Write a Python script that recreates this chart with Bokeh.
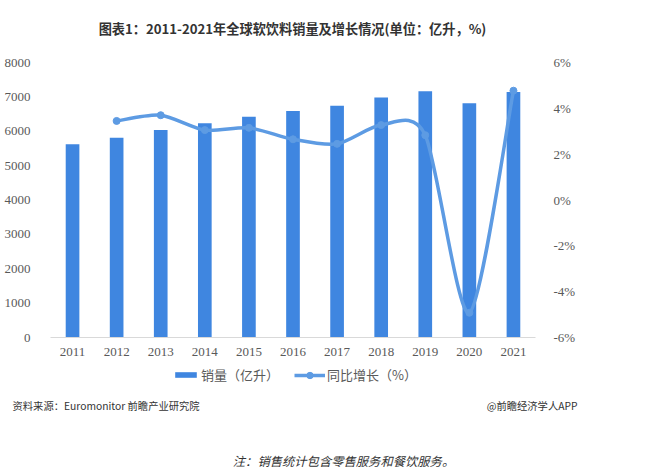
from bokeh.plotting import figure
from bokeh.models import (Range1d, LinearAxis, FixedTicker, PrintfTickFormatter,
                          Legend, LegendItem, Label)
from bokeh.embed import file_html
from bokeh.resources import INLINE

# ---- data ----
years = [2011, 2012, 2013, 2014, 2015, 2016, 2017, 2018, 2019, 2020, 2021]
volume = [5620, 5810, 6040, 6235, 6420, 6590, 6745, 6980, 7165, 6815, 7145]
growth_years = [2012, 2013, 2014, 2015, 2016, 2017, 2018, 2019, 2020, 2021]
growth = [3.45, 3.7, 3.05, 3.15, 2.65, 2.45, 3.27, 2.83, -4.92, 4.77]
left_ticks = [0, 1000, 2000, 3000, 4000, 5000, 6000, 7000, 8000]
right_ticks = [-6, -4, -2, 0, 2, 4, 6]

title_text = "图表1：2011-2021年全球软饮料销量及增长情况(单位：亿升，%)"
legend_bar = "销量（亿升）"
legend_line = "同比增长（%）"
source_text = "资料来源：Euromonitor 前瞻产业研究院"
credit_text = "@前瞻经济学人APP"
note_text = "注：销售统计包含零售服务和餐饮服务。"

BAR = "#3f86e0"
LINE = "#5d9be3"
TICK = "#595959"
CJK = "Noto Sans CJK SC"
SERIF = "Liberation Serif"

# ---- layout (pixels) ----
W, H = 667, 473
PL, PR, PT, PB = 50, 535, 62, 337   # plot area edges
TENSION = 1 / 7.5                   # curve smoothing

x_lo, x_hi = years[0] - 0.5, years[-1] + 0.5
xs = (PR - PL) / (x_hi - x_lo)
y_lo, y_hi = left_ticks[0], left_ticks[-1]
ys = (PB - PT) / (y_hi - y_lo)
r_lo, r_hi = right_ticks[0], right_ticks[-1]
rs = (PB - PT) / (r_hi - r_lo)

p = figure(width=W, height=H, output_backend="svg", toolbar_location=None,
           x_range=Range1d(x_lo - PL / xs, x_hi + (W - PR) / xs),
           y_range=Range1d(y_lo - (H - PB) / ys, y_hi + PT / ys),
           min_border=0, outline_line_color=None, x_axis_location=None,
           y_axis_location=None)
p.background_fill_color = "white"
p.border_fill_color = "white"
p.grid.visible = False
p.extra_y_ranges = {"pct": Range1d(r_lo - (H - PB) / rs, r_hi + PT / rs)}

def style_axis(ax, standoff):
    ax.major_tick_line_color = None
    ax.minor_tick_line_color = None
    ax.major_label_text_font = SERIF
    ax.major_label_text_font_size = "13px"
    ax.major_label_text_color = TICK
    ax.major_label_standoff = standoff

xa = LinearAxis(ticker=FixedTicker(ticks=years), fixed_location=y_lo,
                bounds=(x_lo, x_hi))
style_axis(xa, 4)
xa.axis_line_color = "#d9d9d9"
p.add_layout(xa, "below")

ya = LinearAxis(ticker=FixedTicker(ticks=left_ticks), fixed_location=x_lo)
style_axis(ya, 14)
ya.axis_line_color = None
p.add_layout(ya, "left")

ra = LinearAxis(y_range_name="pct", ticker=FixedTicker(ticks=right_ticks),
                formatter=PrintfTickFormatter(format="%d%%"), fixed_location=x_hi)
style_axis(ra, 12)
ra.axis_line_color = None
p.add_layout(ra, "right")

# bars
bars = p.vbar(x=years, top=volume, width=0.31, fill_color=BAR, line_color=None)

# smooth line (cardinal spline through the data points, drawn as bezier segments)
n = len(growth_years)
x0, y0, x1, y1, cx0, cy0, cx1, cy1 = [], [], [], [], [], [], [], []
for i in range(n - 1):
    im1 = max(i - 1, 0)
    ip2 = min(i + 2, n - 1)
    x0.append(growth_years[i]); y0.append(growth[i])
    x1.append(growth_years[i + 1]); y1.append(growth[i + 1])
    cx0.append(growth_years[i] + (growth_years[i + 1] - growth_years[im1]) * TENSION)
    cy0.append(growth[i] + (growth[i + 1] - growth[im1]) * TENSION)
    cx1.append(growth_years[i + 1] - (growth_years[ip2] - growth_years[i]) * TENSION)
    cy1.append(growth[i + 1] - (growth[ip2] - growth[i]) * TENSION)
curve = p.bezier(x0=x0, y0=y0, x1=x1, y1=y1, cx0=cx0, cy0=cy0, cx1=cx1, cy1=cy1,
                 line_color=LINE, line_width=3.5, y_range_name="pct")
pts = p.scatter(x=growth_years, y=growth, size=7, fill_color=LINE,
                line_color=LINE, y_range_name="pct")

common = dict(orientation="horizontal", label_standoff=2, padding=0, margin=0,
              border_line_color=None, background_fill_alpha=0,
              label_text_font=CJK, label_text_font_size="13px",
              label_text_color=TICK, label_height=16)
leg_bar = Legend(items=[LegendItem(label=legend_bar, renderers=[bars])],
                 location=(172, H - 384), glyph_width=27, glyph_height=7, **common)
leg_line = Legend(items=[LegendItem(label=legend_line, renderers=[curve, pts])],
                  location=(294, H - 384), glyph_width=31, glyph_height=16, **common)
p.add_layout(leg_bar, "center")
p.add_layout(leg_line, "center")

def lab(text, x, y, size, align="left", color="#333333", style="normal"):
    p.add_layout(Label(x=x, y=H - y, x_units="screen", y_units="screen", text=text,
                       text_font=CJK, text_font_size=size, text_align=align,
                       text_baseline="middle", text_color=color,
                       text_font_style=style))

lab(title_text, 292, 28, "13.2px", align="center", style="bold")
lab(source_text, 12, 405, "10.3px")
lab(credit_text, 577, 405, "10.3px", align="right")
lab(note_text, 343, 460, "12.3px", align="center", style="italic")

open("out.html", "w").write(file_html(p, INLINE))
